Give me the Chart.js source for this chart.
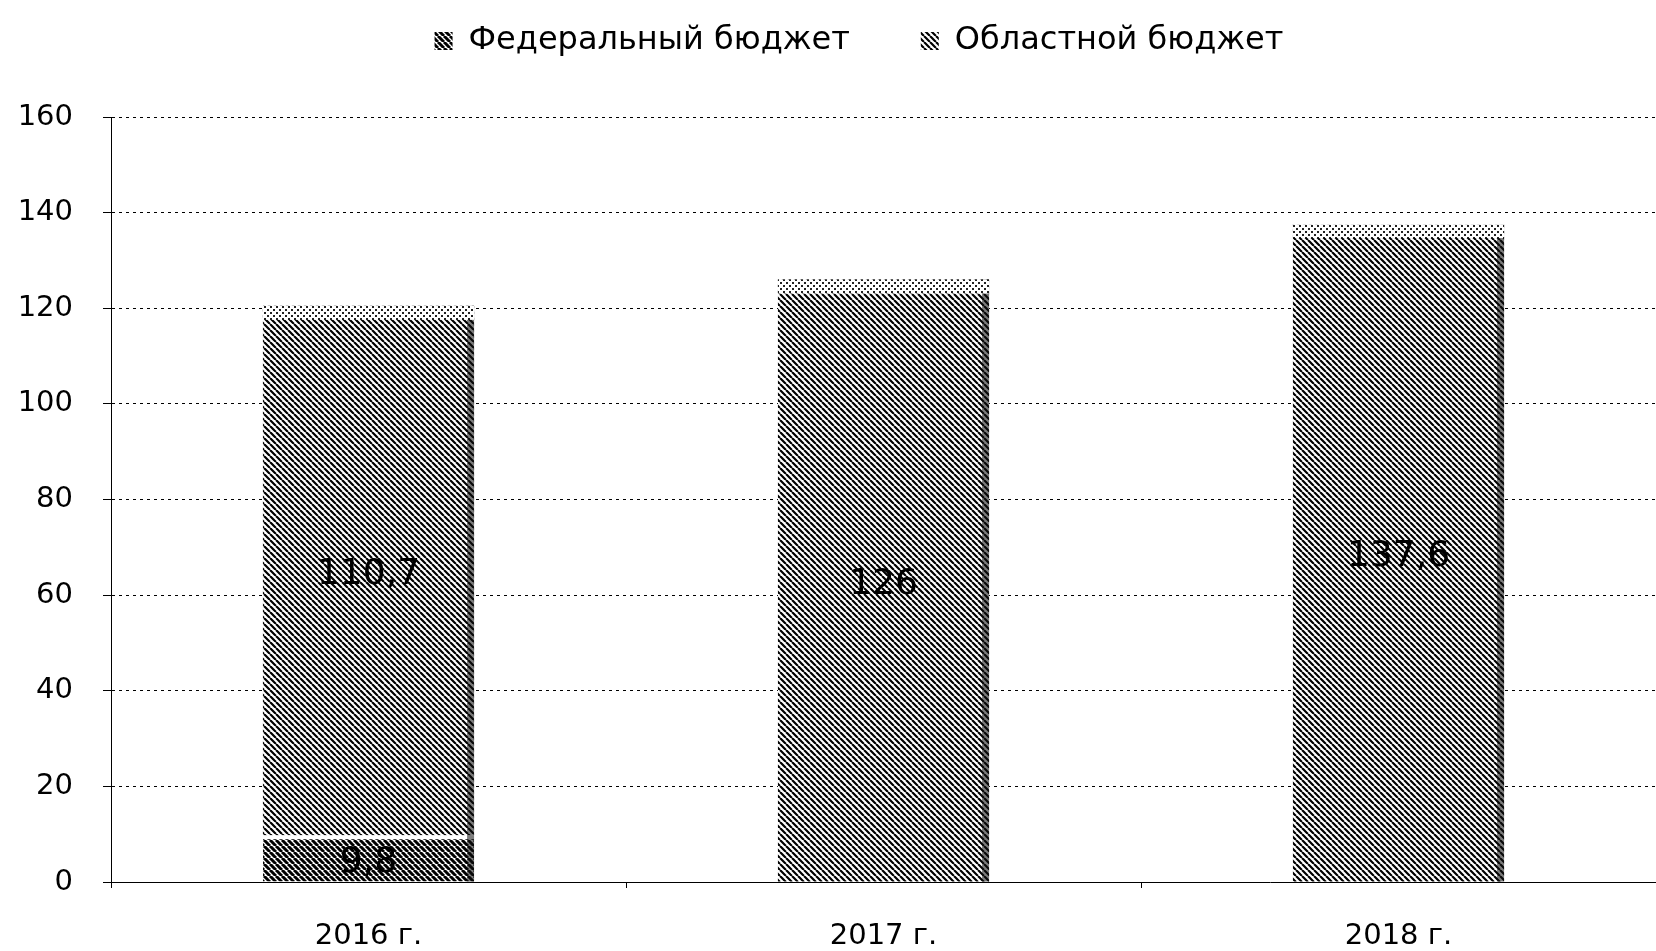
<!DOCTYPE html>
<html>
<head>
<meta charset="utf-8">
<script src="https://cdn.jsdelivr.net/npm/chart.js@4.4.0/dist/chart.umd.min.js"></script>
<style>
  html, body { margin: 0; padding: 0; background: #fff; }
  #wrap { width: 1656px; height: 951px; }
</style>
</head>
<body>
<div id="wrap"><canvas id="myChart"></canvas></div>
<script>
// data
const categories = ['2016 г.', '2017 г.', '2018 г.'];
const federal = [9.8, null, null];
const regional = [110.7, 126, 137.6];
const seriesNames = ['Федеральный бюджет', 'Областной бюджет'];
const yMax = 160;
const yStep = 20;

const FONT = '"DejaVu Sans", sans-serif';

function stripes(gap, width)
{
    const c = document.createElement('canvas');
    c.width = gap; c.height = gap;
    const g = c.getContext('2d');
    g.fillStyle = '#fff';
    g.fillRect(0, 0, gap, gap);
    g.strokeStyle = '#000';
    g.lineWidth = width;
    g.beginPath();
    for (let k = -1; k <= 1; k++) {
        g.moveTo(k * gap, 0);
        g.lineTo(k * gap + gap, gap);
    }
    g.stroke();
    return g.createPattern(c, 'repeat');
}

function dots()
{
    const c = document.createElement('canvas');
    c.width = 6; c.height = 6;
    const g = c.getContext('2d');
    g.fillStyle = '#fff';
    g.fillRect(0, 0, 6, 6);
    g.fillStyle = '#222';
    g.fillRect(0, 0, 2, 2);
    g.fillRect(3, 3, 2, 2);
    return g.createPattern(c, 'repeat');
}

const fedPattern = stripes(6, 3);
const regPattern = stripes(6, 2.2);
const capPattern = dots();

const fmt = v => String(v).replace('.', ',');

// push the plot down below the legend, and nudge legend right a bit
const legendGap = {
    id: 'legendGap',
    beforeInit(chart)
    {
        const fit = chart.legend.fit;
        chart.legend.fit = function () {
            fit.bind(chart.legend)();
            this.height += 50;
        };
    },
    afterLayout(chart)
    {
        chart.legend.left += 28;
        chart.legend.right += 28;
    }
};

// value labels + 3d look (cap on top, dark right edge)
const barDecor = {
    id: 'barDecor',
    afterDatasetsDraw(chart)
    {
        const ctx = chart.ctx;
        const tops = {};
        chart.data.datasets.forEach((ds, di) => {
            const meta = chart.getDatasetMeta(di);
            meta.data.forEach((bar, i) => {
                if (ds.data[i] == null) return;
                const left = bar.x - bar.width / 2;
                const right = bar.x + bar.width / 2;
                ctx.save();
                ctx.fillStyle = '#111';
                ctx.globalAlpha = 0.55;
                ctx.fillRect(right - 7, bar.y, 7, bar.base - bar.y);
                ctx.restore();
                if (!tops[i] || bar.y < tops[i].y) tops[i] = { y: bar.y, left, right };
            });
        });
        Object.values(tops).forEach(t => {
            ctx.save();
            ctx.fillStyle = capPattern;
            ctx.fillRect(t.left, t.y, t.right - t.left, 14);
            ctx.restore();
        });
        chart.data.datasets.forEach((ds, di) => {
            const meta = chart.getDatasetMeta(di);
            meta.data.forEach((bar, i) => {
                if (ds.data[i] == null) return;
                ctx.save();
                ctx.font = '36px ' + FONT;
                ctx.fillStyle = '#000';
                ctx.textAlign = 'center';
                ctx.textBaseline = 'middle';
                ctx.fillText(fmt(ds.data[i]), bar.x, (bar.y + bar.base) / 2 + 4);
                ctx.restore();
            });
        });
    }
};

const config = {
    type: 'bar',
    data: {
        labels: categories,
        datasets: [
            {
                label: seriesNames[0],
                data: federal,
                backgroundColor: fedPattern,
                borderColor: '#fff',
                borderWidth: { top: 4 },
                borderSkipped: 'bottom',
                barPercentage: 0.41,
                categoryPercentage: 1
            },
            {
                label: seriesNames[1],
                data: regional,
                backgroundColor: regPattern,
                borderWidth: 0,
                barPercentage: 0.41,
                categoryPercentage: 1
            }
        ]
    },
    options: {
        responsive: true,
        maintainAspectRatio: false,
        animation: false,
        layout: { padding: { left: 6, right: 0, top: 5, bottom: 0 } },
        plugins: {
            legend: {
                position: 'top',
                labels: {
                    font: { family: FONT, size: 32 },
                    color: '#000',
                    boxWidth: 18,
                    boxHeight: 18,
                    padding: 20,
                    generateLabels(chart)
                    {
                        const items = Chart.defaults.plugins.legend.labels.generateLabels(chart);
                        items.forEach((it, k) => {
                            if (k < items.length - 1) it.text = it.text + '     ';
                            it.lineWidth = 0;
                        });
                        return items;
                    }
                }
            },
            tooltip: { enabled: false }
        },
        scales: {
            x: {
                stacked: true,
                offset: true,
                afterFit(axis) { axis.height = 69; },
                grid: {
                    offset: true,
                    drawOnChartArea: false,
                    drawTicks: true,
                    tickLength: 6,
                    color: '#000'
                },
                border: { display: true, color: '#000', dash: [3, 4] },
                ticks: {
                    font: { family: FONT, size: 29 },
                    color: '#000',
                    padding: 31
                }
            },
            y: {
                stacked: true,
                min: 0,
                max: yMax,
                afterFit(axis) { axis.width = 105; },
                ticks: {
                    stepSize: yStep,
                    font: { family: FONT, size: 29 },
                    color: '#000',
                    padding: 30
                },
                grid: {
                    color: '#000',
                    lineWidth: 1,
                    tickLength: 8
                },
                border: { display: true, color: '#000', dash: [3, 4] }
            }
        }
    },
    plugins: [legendGap, barDecor]
};

const myChart = new Chart(document.getElementById('myChart'), config);
</script>
</body>
</html>
